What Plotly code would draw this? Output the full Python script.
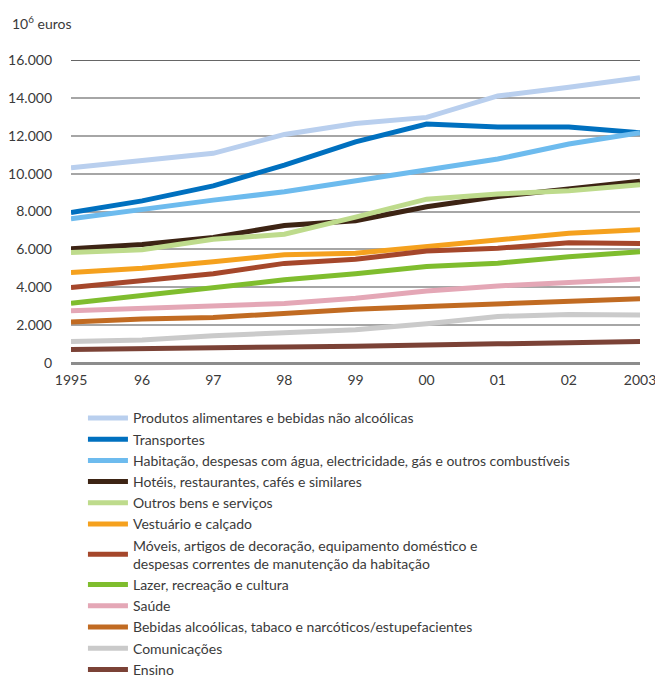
import plotly.graph_objects as go

years = [1995, 1996, 1997, 1998, 1999, 2000, 2001, 2002, 2003]
year_labels = ["1995", "96", "97", "98", "99", "00", "01", "02", "2003"]

# Despesa das famílias por categoria (10^6 euros)
produtos_alimentares = [10310, 10720, 11070, 12070, 12650, 12970, 14100, 14560, 15060]
transportes = [7940, 8560, 9350, 10450, 11680, 12620, 12460, 12460, 12160]
habitacao = [7610, 8120, 8600, 9040, 9610, 10150, 10770, 11560, 12160]
hoteis = [6030, 6260, 6630, 7260, 7510, 8250, 8790, 9220, 9600]
outros_bens = [5830, 5980, 6530, 6800, 7700, 8650, 8920, 9100, 9410]
vestuario = [4780, 5000, 5350, 5710, 5790, 6140, 6460, 6850, 7030]
moveis = [3980, 4340, 4710, 5260, 5480, 5910, 6060, 6350, 6310]
lazer = [3160, 3560, 3930, 4390, 4710, 5090, 5270, 5610, 5870]
saude = [2760, 2890, 3060, 3140, 3420, 3800, 4070, 4280, 4430]
bebidas_alcoolicas = [2170, 2320, 2400, 2640, 2840, 2980, 3130, 3280, 3390]
comunicacoes = [1130, 1220, 1440, 1580, 1750, 2070, 2460, 2560, 2540]
ensino = [710, 770, 800, 850, 880, 970, 1010, 1070, 1140]

series = [
    ("Produtos alimentares e bebidas não alcoólicas", produtos_alimentares, "#b9cfee"),
    ("Transportes", transportes, "#0070bf"),
    ("Habitação, despesas com água, electricidade, gás e outros combustíveis", habitacao, "#6dbbee"),
    ("Hotéis, restaurantes, cafés e similares", hoteis, "#3d2414"),
    ("Outros bens e serviços", outros_bens, "#bedb8c"),
    ("Vestuário e calçado", vestuario, "#f5a11e"),
    ("Móveis, artigos de decoração, equipamento doméstico e<br>despesas correntes de manutenção da habitação", moveis, "#a5472b"),
    ("Lazer, recreação e cultura", lazer, "#7fbd2e"),
    ("Saúde", saude, "#e4a7b6"),
    ("Bebidas alcoólicas, tabaco e narcóticos/estupefacientes", bebidas_alcoolicas, "#c16b22"),
    ("Comunicações", comunicacoes, "#cacaca"),
    ("Ensino", ensino, "#7b4236"),
]

y_ticks = [0, 2000, 4000, 6000, 8000, 10000, 12000, 14000, 16000]
y_tick_labels = ["0", "2.000", "4.000", "6.000", "8.000", "10.000", "12.000", "14.000", "16.000"]

FONT = "Lato"
TEXT = "#3a3a3a"

fig = go.Figure()
for name, values, color in series:
    fig.add_trace(go.Scatter(
        x=years, y=values, name=name, mode="lines",
        line=dict(color=color, width=5),
    ))

fig.update_layout(
    width=655, height=677,
    margin=dict(l=71, r=15, t=60, b=314, autoexpand=False),
    paper_bgcolor="white", plot_bgcolor="white",
    font=dict(family=FONT, size=14, color=TEXT),
    showlegend=True,
    legend=dict(
        x=0.021, y=-0.13, xanchor="left", yanchor="top",
        orientation="v", traceorder="normal",
        font=dict(family=FONT, size=14, color=TEXT),
        itemwidth=40, tracegroupgap=0,
        bgcolor="rgba(0,0,0,0)",
    ),
    xaxis=dict(
        range=[1995, 2003], tickvals=years, ticktext=year_labels,
        showgrid=False, zeroline=False, showline=False,
        ticks="", ticklabeloverflow="allow", ticklabelstandoff=7,
        tickfont=dict(family=FONT, size=14, color=TEXT),
    ),
    yaxis=dict(
        range=[0, 16000], tickvals=y_ticks, ticktext=y_tick_labels,
        showgrid=True, gridcolor="#a6a6a6", gridwidth=1.5,
        zeroline=True, zerolinecolor="#8c8c8c", zerolinewidth=2.5,
        showline=False, ticks="", ticklabelstandoff=18,
        tickfont=dict(family=FONT, size=14, color=TEXT),
    ),
    annotations=[dict(
        text="10<sup>6</sup> euros", xref="paper", yref="paper",
        x=-0.108, y=1.087, xanchor="left", yanchor="bottom", showarrow=False,
        font=dict(family=FONT, size=14, color=TEXT),
    )],
    shapes=[dict(
        type="line", xref="paper", yref="y", x0=0, x1=1, y0=16000, y1=16000,
        line=dict(color="#333333", width=1.5), layer="below",
    )],
)

fig.write_html("out.html")
